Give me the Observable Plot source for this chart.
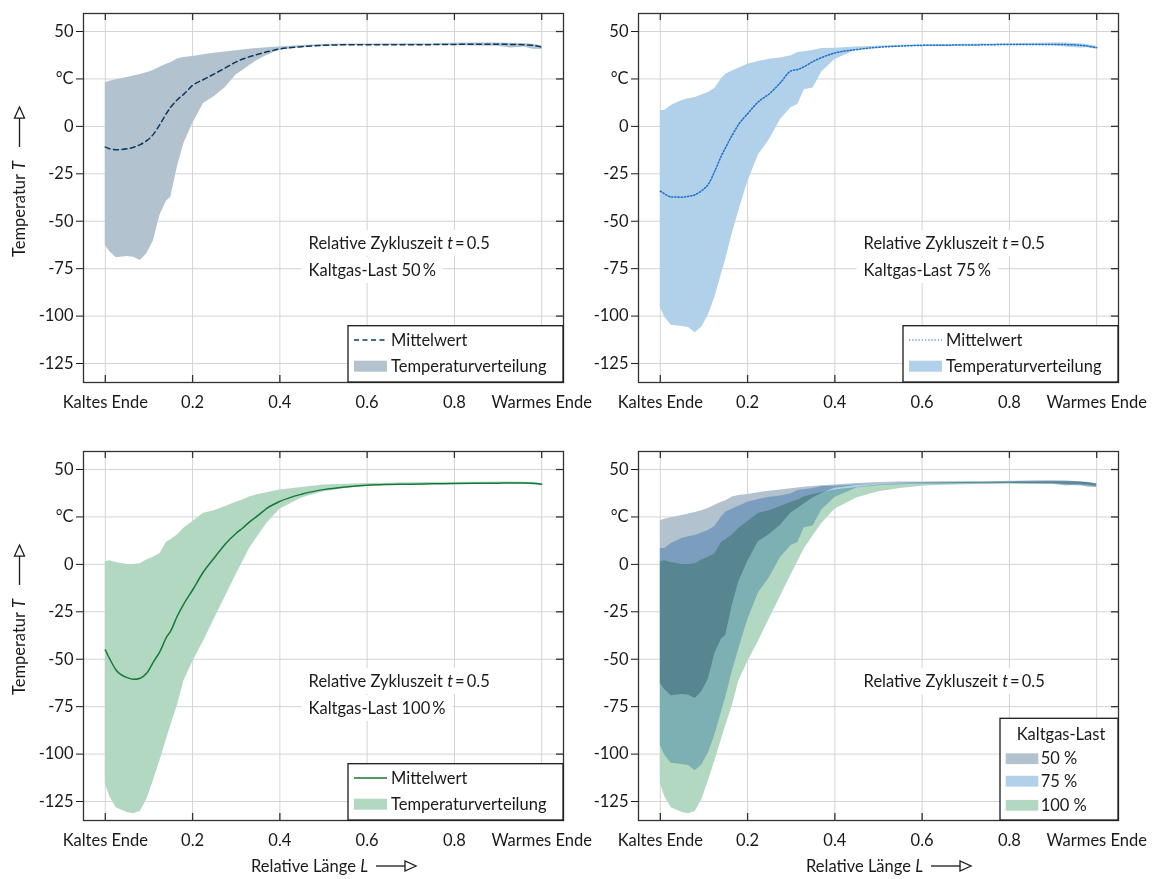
<!DOCTYPE html>
<html><head><meta charset="utf-8">
<script src="https://cdn.jsdelivr.net/npm/d3@7"></script>
<script src="https://cdn.jsdelivr.net/npm/@observablehq/plot@0.6"></script>
<style>
body{margin:0;background:#fff;font-family:Lato,"Noto Sans",sans-serif;}
#root{position:relative;width:1160px;height:879px;overflow:hidden;}
#root > svg{position:absolute;}
</style></head><body><div id="root"></div>
<script>
// Relative length positions (x)
const L = [0,0.01,0.025,0.05,0.065,0.08,0.095,0.11,0.125,0.14,0.15,0.165,0.18,0.2,0.225,0.25,0.275,0.3,0.315,0.33,0.35,0.37,0.4,0.45,0.5,0.55,0.6,0.65,0.7,0.75,0.8,0.85,0.9,0.93,0.96,0.98,1.0];
// Kaltgas-Last 50 %
const hi50 = [23,23.8,24.6,25.8,26.5,27.3,28.3,29.5,31.2,32.7,33.6,35.5,36.3,36.9,37.8,38.6,39.2,39.9,40.2,40.6,41.1,41.5,41.9,42.6,43.2,43.4,43.4,43.5,43.5,43.6,43.8,44,44,43.8,43.6,43.3,42.5];
const lo50 = [-62.8,-66,-69.2,-68.6,-69,-70.7,-67.2,-60.5,-47,-39.5,-37.3,-21.5,-9,1.4,12,15.8,20.5,27.2,29.5,31.9,35,37.4,40.1,41.6,42.3,42.5,42.6,42.6,42.6,42.7,42.6,42.4,42.2,41.3,41.8,40.6,40.5];
const mean50 = [-10.9,-11.8,-12.3,-11.8,-11,-9.6,-7.5,-4.2,1,6.8,10.2,14,17,21.6,24.7,27.7,30.8,34,35.5,36.7,38,39.3,40.8,42,42.7,43,43,43,43,43.1,43.2,43.3,43.3,43.2,43,42.7,41.8];
// Kaltgas-Last 75 %
const hi75 = [8.4,8.4,11,13.6,14.5,15.2,16.5,17.8,20,25,27.5,29.2,30.7,32.7,34.2,35.4,36,37.2,38.9,39.3,40,41,41.2,41.8,42.3,42.8,43,43.1,43.3,43.4,43.6,43.8,44,43.9,43.6,43,42.3];
const lo75 = [-95.3,-100.5,-104.8,-105.5,-106,-108.8,-105.8,-99.5,-90,-78,-70,-56.5,-44.5,-29.4,-15,-7,3.5,10,11.6,19.3,20.2,28.7,35.2,40.2,41.4,42,42.2,42.3,42.4,42.5,42.6,42.6,42.5,41.9,41.3,41.4,40.7];
const mean75 = [-34.1,-35.6,-37.2,-37.3,-36.8,-36,-33.8,-30.5,-23.5,-15.5,-11,-4.5,1.2,6.7,13,17.2,23,29.3,30,31.5,34.2,36.3,38.7,40.5,41.7,42.3,42.7,42.8,42.9,43,43.2,43.2,43.2,43.1,42.8,42.3,41.5];
// Kaltgas-Last 100 %
const hi100 = [1.4,1.9,1,0,0,0.3,2.3,3.8,5.6,11.5,13,15.5,19,22.5,26.9,28.3,30.5,32.8,34,35.5,36.8,37.7,39.2,40.5,41.8,42.3,42.6,42.8,43,43.1,43.2,43.3,43.4,43.4,43.3,43,42.5];
const lo100 = [-115.3,-122.3,-128.3,-130.8,-131.5,-130.3,-124.1,-114.2,-103.6,-92.5,-85,-74.5,-61.5,-51.5,-40.5,-28.6,-17,-5.3,1.4,8.2,15,21.6,29,35,38.3,40,41.2,41.7,42,42.1,42.2,42.3,42.4,42.4,42.3,41.8,41.5];
const mean100 = [-45.1,-49.8,-55.8,-59.7,-60.6,-60,-57.3,-51.5,-46,-38.5,-35,-27.2,-20.8,-13.5,-3.9,3.5,10.8,16.4,19.2,22.3,25.8,29.5,33.2,37,39.4,40.8,41.7,42.1,42.3,42.5,42.6,42.7,42.8,42.9,42.9,42.7,42.2];

const xTickValues = [0,0.2,0.4,0.6,0.8,1];
const xTickLabels = ["Kaltes Ende","0.2","0.4","0.6","0.8","Warmes Ende"];
const yTickValues = [50,25,0,-25,-50,-75,-100,-125];
const yTickLabels = ["50","°C","0","-25","-50","-75","-100","-125"];
const loadLabels = ["50 %","75 %","100 %"];
const loadNames = ["Kaltgas-Last 50\u2009%","Kaltgas-Last 75\u2009%","Kaltgas-Last 100\u2009%"];
const legendTitle = "Kaltgas-Last";
const legendMean = "Mittelwert";
const legendBand = "Temperaturverteilung";
const yTitle = "Temperatur ", yTitleSym = "T";
const xTitle = "Relative Länge ", xTitleSym = "L";
const annotLine1 = [["Relative Zykluszeit ", false], ["t", true], ["\u2009=\u20090.5", false]];
const annotX = 0.467, annotY = [-62, -76.3];

const X_DOMAIN = [-0.05, 1.05], Y_DOMAIN = [-135, 59.5];
const FILL = ["#b3c2cf", "#b1d0ea", "#b3d8c2"];
const LINE = ["#0c3a5e", "#1b6fc8", "#157a36"];
const DASH = ["5,3.5", "1.3,1.9", null];
const GRID = "#d4d4d4", INK = "#1a1a1a";
const FS = 16.5;

const series = [
  {hi: hi50, lo: lo50, mean: mean50},
  {hi: hi75, lo: lo75, mean: mean75},
  {hi: hi100, lo: lo100, mean: mean100}
];

const root = document.getElementById("root");
const W = 580, mL = 83, mR = 17;

function arrow(g, x1, y1, x2, y2) {
  const dx = x2 - x1, dy = y2 - y1, len = Math.hypot(dx, dy), ux = dx / len, uy = dy / len;
  const head = 11, half = 5;
  const bx = x2 - ux * head, by = y2 - uy * head;
  g.append("line").attr("x1", x1).attr("y1", y1).attr("x2", bx).attr("y2", by)
    .attr("stroke", INK).attr("stroke-width", 1.3);
  g.append("path").attr("d", `M${x2},${y2}L${bx - uy * half},${by + ux * half}L${bx + uy * half},${by - ux * half}Z`)
    .attr("fill", "white").attr("stroke", INK).attr("stroke-width", 1.3).attr("stroke-linejoin", "miter");
}

function makePanel(cfg) {
  const {left, top, height, mT, mB, idx, overlay, showY, showX} = cfg;
  const plotW = W - mL - mR, plotH = height - mT - mB;
  const used = overlay ? [0, 1, 2] : [idx];
  const marks = [
    Plot.ruleX(xTickValues, {x: d => d, stroke: GRID, strokeWidth: 1}),
    Plot.ruleY(yTickValues, {y: d => d, stroke: GRID, strokeWidth: 1})
  ];
  if (overlay) {
    const union = L.map((x, i) => ({x, lo: d3.min(used, k => series[k].lo[i]), hi: d3.max(used, k => series[k].hi[i])}));
    marks.push(Plot.areaY(union, {x: "x", y1: "lo", y2: "hi", fill: "white"}));
  }
  for (const k of used) {
    const s = series[k];
    const rows = L.map((x, i) => ({x, lo: s.lo[i], hi: s.hi[i]}));
    marks.push(Plot.areaY(rows, {x: "x", y1: "lo", y2: "hi", fill: FILL[k], mixBlendMode: overlay ? "multiply" : "normal"}));
  }
  if (!overlay) {
    const s = series[idx];
    const rows = L.map((x, i) => ({x, m: s.mean[i]}));
    marks.push(Plot.line(rows, {x: "x", y: "m", stroke: LINE[idx], strokeWidth: 1.5, strokeDasharray: DASH[idx], curve: "monotone-x"}));
  }
  marks.push(
    Plot.tickX(xTickValues, {x: d => d, insetBottom: plotH - 7, stroke: "#333", strokeWidth: 1.3}),
    Plot.tickX(xTickValues, {x: d => d, insetTop: plotH - 7, stroke: "#333", strokeWidth: 1.3}),
    Plot.tickY(yTickValues, {y: d => d, insetLeft: plotW - 7, stroke: "#333", strokeWidth: 1.3}),
    Plot.frame({stroke: "#333", strokeWidth: 1.3})
  );
  const chart = Plot.plot({
    width: W, height, marginLeft: mL, marginRight: mR, marginTop: mT, marginBottom: mB,
    style: {fontSize: FS + "px", fontFamily: "Lato, 'Noto Sans', sans-serif", color: INK, background: "transparent", overflow: "visible"},
    x: {domain: X_DOMAIN, ticks: xTickValues, tickFormat: d => xTickLabels[xTickValues.indexOf(d)], tickSize: 0, tickPadding: 14, label: null},
    y: {domain: Y_DOMAIN, ticks: yTickValues, tickFormat: d => yTickLabels[yTickValues.indexOf(d)], tickSize: 7, tickPadding: 3, label: null},
    marks
  });
  chart.style.left = left + "px";
  chart.style.top = top + "px";
  root.appendChild(chart);

  const sx = chart.scale("x"), sy = chart.scale("y");
  const svg = d3.select(chart);
  const font = "Lato, 'Noto Sans', sans-serif";
  // annotations
  const ag = svg.append("g").attr("font-family", font).attr("font-size", FS).attr("fill", INK).attr("text-anchor", "start");
  const lines = overlay ? [annotLine1] : [annotLine1, [[loadNames[idx], false]]];
  lines.forEach((parts, j) => {
    const t = ag.append("text").attr("x", sx.apply(annotX)).attr("y", sy.apply(annotY[j]) + 5.5);
    parts.forEach(([s, it]) => t.append("tspan").text(s).attr("font-style", it ? "italic" : null));
    const bb = t.node().getBBox();
    ag.insert("rect", () => t.node()).attr("x", bb.x - 7).attr("y", bb.y - 3).attr("width", bb.width + 14).attr("height", bb.height + 6).attr("fill", "white");
  });
  // legend
  const R = W - mR, B = mT + plotH;
  const lg = svg.append("g").attr("font-family", font).attr("font-size", FS).attr("fill", INK).attr("text-anchor", "start");
  if (!overlay) {
    lg.append("rect").attr("x", R - 215).attr("y", B - 56.3).attr("width", 215).attr("height", 56.3)
      .attr("fill", "white").attr("stroke", INK).attr("stroke-width", 1.3);
    lg.append("line").attr("x1", R - 209).attr("x2", R - 176).attr("y1", B - 42).attr("y2", B - 42)
      .attr("stroke", LINE[idx]).attr("stroke-width", idx === 1 ? 1 : 1.3).attr("stroke-dasharray", DASH[idx]);
    lg.append("text").attr("x", R - 172).attr("y", B - 42 + 5.5).text(legendMean);
    lg.append("rect").attr("x", R - 209).attr("y", B - 21.3).attr("width", 33).attr("height", 11).attr("fill", FILL[idx]);
    lg.append("text").attr("x", R - 172).attr("y", B - 16 + 5.5).text(legendBand);
  } else {
    lg.append("rect").attr("x", R - 118).attr("y", B - 101.7).attr("width", 118).attr("height", 101.7)
      .attr("fill", "white").attr("stroke", INK).attr("stroke-width", 1.3);
    lg.append("text").attr("x", R - 57).attr("y", B - 85.7 + 5.5).attr("text-anchor", "middle").text(legendTitle);
    const cy = [B - 61.3, B - 38.8, B - 14.7];
    loadLabels.forEach((lab, k) => {
      lg.append("rect").attr("x", R - 112.3).attr("y", cy[k] - 5.4).attr("width", 32.6).attr("height", 10.8).attr("fill", FILL[k]);
      lg.append("text").attr("x", R - 77.3).attr("y", cy[k] + 5.5).text(lab);
    });
  }
  // y title
  if (showY) {
    const yg = svg.append("g");
    const base = mT + 244;
    const t = yg.append("text").attr("transform", `translate(25,${base}) rotate(-90)`).attr("text-anchor", "start")
      .attr("font-family", font).attr("font-size", FS).attr("fill", INK);
    t.append("tspan").text(yTitle);
    t.append("tspan").text(yTitleSym).attr("font-style", "italic");
    const len = t.node().getComputedTextLength();
    arrow(yg, 19.5, base - len - 14, 19.5, base - len - 54);
  }
  if (showX) {
    const xg = svg.append("g");
    const cy = mT + plotH + 46;
    const t = xg.append("text").attr("x", 251).attr("y", cy + 5.5).attr("text-anchor", "start")
      .attr("font-family", font).attr("font-size", FS).attr("fill", INK);
    t.append("tspan").text(xTitle);
    t.append("tspan").text(xTitleSym).attr("font-style", "italic");
    const len = t.node().getComputedTextLength();
    arrow(xg, 251 + len + 8, cy, 251 + len + 48, cy);
  }
}

makePanel({left: 0, top: 0, height: 420, mT: 13, mB: 38, idx: 0, overlay: false, showY: true, showX: false});
makePanel({left: 555, top: 0, height: 420, mT: 13, mB: 38, idx: 1, overlay: false, showY: false, showX: false});
makePanel({left: 0, top: 437, height: 442, mT: 14, mB: 59, idx: 2, overlay: false, showY: true, showX: true});
makePanel({left: 555, top: 437, height: 442, mT: 14, mB: 59, idx: 0, overlay: true, showY: false, showX: true});
</script>
</body></html>
